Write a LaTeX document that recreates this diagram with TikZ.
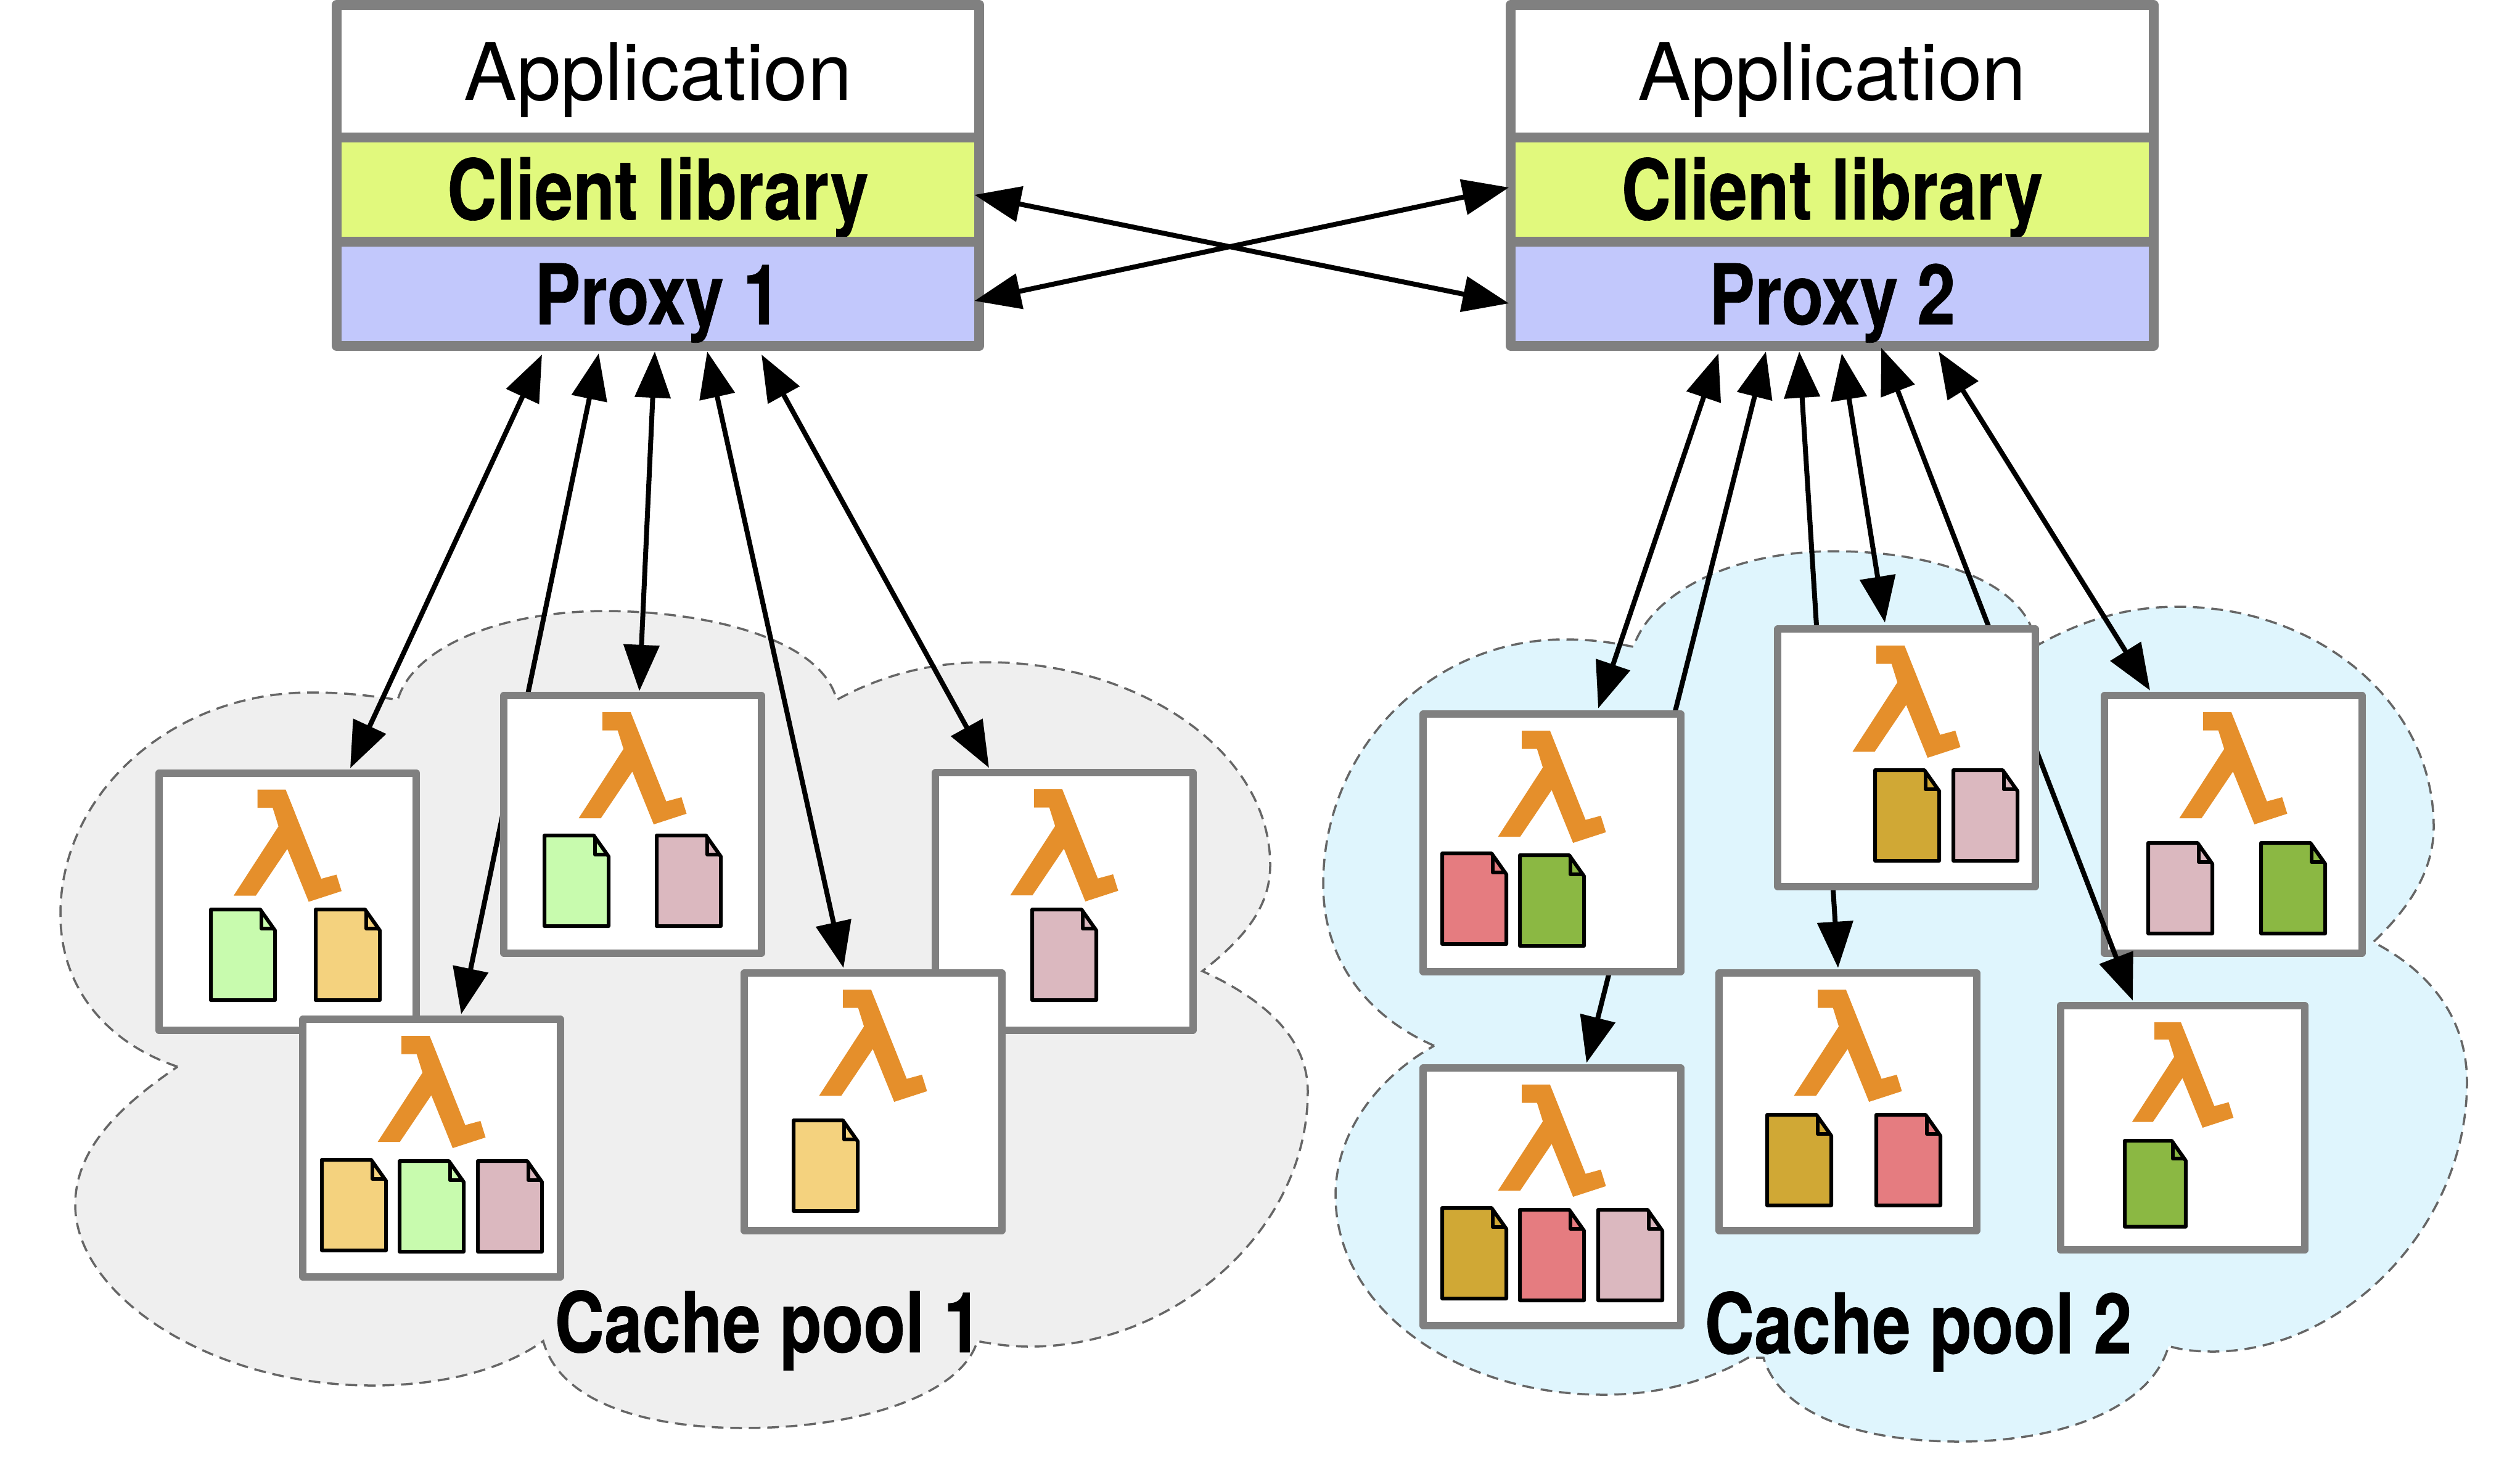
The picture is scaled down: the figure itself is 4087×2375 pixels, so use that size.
\documentclass[tikz,border=0pt]{standalone}
\usepackage{fontspec}
\usetikzlibrary{arrows.meta}
\setmainfont{TeX Gyre Heros}
\newfontfamily\condf[FakeStretch=0.82,BoldFeatures={FakeBold=0.5}]{TeX Gyre Heros}
\definecolor{boxgray}{HTML}{808080}
\definecolor{cliCol}{HTML}{E1F97D}
\definecolor{proCol}{HTML}{C2C8FC}
\definecolor{cloudA}{HTML}{EFEFEF}
\definecolor{cloudB}{HTML}{DFF5FD}
\definecolor{cloudLine}{HTML}{666666}
\definecolor{lamCol}{HTML}{E58F2B}
\definecolor{dLime}{HTML}{C8FBAE}
\definecolor{dSand}{HTML}{F4D27E}
\definecolor{dPink}{HTML}{DBB8BF}
\definecolor{dGold}{HTML}{D0A835}
\definecolor{dRed}{HTML}{E57C80}
\definecolor{dLeaf}{HTML}{8BB843}
\pgfdeclarelayer{cloudlayer}
\pgfdeclarelayer{lowerlayer}
\pgfdeclarelayer{arrowlayer}
\pgfsetlayers{cloudlayer,lowerlayer,arrowlayer,main}
\newcommand\lamicon[3]{%
  \fill[lamCol,shift={(#1,#2)},scale=#3]
    (-48.8,-182) -- (-3.2,-182) -- (54.5,-37.3) -- (79.2,-44) -- (87.5,-17.3) -- (34.2,0)
    -- (-0.5,-85.7) -- (-51.5,-10) -- (-87.5,-10) -- (-14.8,-122.3) -- (-24.2,-152.3) -- (-48.8,-152.3) -- cycle;}
\newcommand\docicon[4][1]{%
  \begin{scope}[shift={(#2,#3)},scale=#1]
    \draw[docline,fill=#4] (0,0) -- (80,0) -- (104,34) -- (104,147) -- (0,147) -- cycle;
    \draw[docline] (82,3) -- (82,31) -- (102,31);
  \end{scope}}
\tikzset{
  x=0.01cm,y=-0.01cm,
  stack/.style={draw=boxgray,line width=0.16cm,line join=round,inner sep=0pt,outer sep=0pt,
    minimum width=10.42cm,align=center},
  worker/.style={draw=boxgray,fill=white,line width=0.12cm,line join=round,inner sep=0pt,outer sep=0pt,
    minimum width=4.17cm,minimum height=4.17cm},
  smallworker/.style={worker,minimum width=3.96cm,minimum height=3.96cm},
  docline/.style={draw=black,line width=0.06cm,line join=round},
  conn/.style={line width=0.08cm,
    {Triangle[length=0.75cm,width=0.57cm]}-{Triangle[length=0.75cm,width=0.57cm]}},
  cloudshape/.style={draw=cloudLine,line width=0.035cm,dash pattern=on 0.19cm off 0.11cm},
  plainlabel/.style={font=\fontsize{36.6}{40}\selectfont},
  boldlabel/.style={font=\condf\bfseries\fontsize{38.6}{42}\selectfont},
}
\begin{document}
\begin{tikzpicture}
\useasboundingbox (0,0) rectangle (4087,2375);

\begin{pgfonlayer}{cloudlayer}
\fill[white] (0,0) rectangle (4087,2375);
\draw[cloudshape,fill=cloudA]
  (288,1730) .. controls (170,1690) and (98,1600) .. (98,1483)
  .. controls (98,1284) and (281,1123) .. (505,1123)
  .. controls (555,1123) and (600,1128) .. (645,1135)
  .. controls (670,1050) and (810,991) .. (982,991)
  .. controls (1130,991) and (1330,1030) .. (1357,1135)
  .. controls (1430,1095) and (1510,1074) .. (1600,1074)
  .. controls (1850,1074) and (2060,1220) .. (2060,1403)
  .. controls (2060,1470) and (2020,1520) .. (1950,1575)
  .. controls (2060,1625) and (2121,1690) .. (2121,1770)
  .. controls (2121,2000) and (1900,2184) .. (1670,2184)
  .. controls (1640,2184) and (1610,2180) .. (1585,2175)
  .. controls (1560,2260) and (1400,2316) .. (1207,2316)
  .. controls (1060,2316) and (910,2280) .. (881,2175)
  .. controls (810,2225) and (710,2247) .. (603,2247)
  .. controls (340,2247) and (122,2100) .. (122,1954)
  .. controls (122,1860) and (200,1790) .. (288,1730) -- cycle;
\draw[cloudshape,fill=cloudB]
  (2326,1696) .. controls (2220,1650) and (2146,1560) .. (2146,1434)
  .. controls (2146,1215) and (2320,1037) .. (2537,1037)
  .. controls (2580,1037) and (2615,1042) .. (2649,1049)
  .. controls (2680,960) and (2810,894) .. (2975,894)
  .. controls (3110,894) and (3250,930) .. (3291,1010)
  -- (3307,1045)
  .. controls (3380,1005) and (3450,984) .. (3532,984)
  .. controls (3760,984) and (3947,1140) .. (3947,1341)
  .. controls (3947,1410) and (3910,1470) .. (3849,1528)
  .. controls (3950,1580) and (4001,1660) .. (4001,1755)
  .. controls (4001,1990) and (3800,2192) .. (3589,2192)
  .. controls (3565,2192) and (3540,2190) .. (3517,2183)
  .. controls (3490,2280) and (3350,2338) .. (3177,2338)
  .. controls (3030,2338) and (2890,2300) .. (2860,2202)
  -- (2835,2202)
  .. controls (2770,2240) and (2690,2262) .. (2601,2262)
  .. controls (2360,2262) and (2166,2120) .. (2166,1939)
  .. controls (2166,1840) and (2230,1750) .. (2326,1696) -- cycle;
\end{pgfonlayer}

% top stacks and the boxes that sit under connectors
\begin{pgfonlayer}{lowerlayer}
\node[stack,plainlabel,fill=white,minimum height=2.15cm,text height=0.93cm,text depth=0pt] (appA) at (1067,115.5) {Application};
\node[stack,boldlabel,fill=cliCol,minimum height=1.69cm,text height=0.97cm,text depth=0pt] (cliA) at (1067,307.5) {Client library};
\node[stack,boldlabel,fill=proCol,minimum height=1.69cm,text height=0.99cm,text depth=0pt] (proA) at (1067,476.5) {Proxy 1};
\node[stack,plainlabel,fill=white,minimum height=2.15cm,text height=0.93cm,text depth=0pt] (appB) at (2971.5,115.5) {Application};
\node[stack,boldlabel,fill=cliCol,minimum height=1.69cm,text height=0.97cm,text depth=0pt] (cliB) at (2971.5,307.5) {Client library};
\node[stack,boldlabel,fill=proCol,minimum height=1.69cm,text height=0.99cm,text depth=0pt] (proB) at (2971.5,476.5) {Proxy 2};
\node[worker] (vthree) at (3622,1337) {};
\lamicon{3622}{1337}{1}
\docicon{3484}{1367}{dPink}
\docicon{3667}{1367}{dLeaf}
\node[smallworker] (vsix) at (3540,1829) {};
\lamicon{3540}{1829}{0.94}
\docicon[0.95]{3446}{1850}{dLeaf}
\end{pgfonlayer}

% pool 1 boxes
\node[worker] (wone) at (466.5,1462.5) {};
\lamicon{466.5}{1462.5}{1}
\docicon{342}{1475}{dLime}
\docicon{512}{1475}{dSand}
\node[worker] (wtwo) at (1026,1337) {};
\lamicon{1026}{1337}{1}
\docicon{883}{1355}{dLime}
\docicon{1065}{1355}{dPink}
\node[worker] (wthree) at (700,1862) {};
\lamicon{700}{1862}{1}
\docicon{522}{1881}{dSand}
\docicon{648}{1883}{dLime}
\docicon{775}{1883}{dPink}
\node[worker] (wfour) at (1726,1462) {};
\lamicon{1726}{1462}{1}
\docicon{1674}{1475}{dPink}
\node[worker] (wfive) at (1416,1787) {};
\lamicon{1416}{1787}{1}
\docicon{1287}{1817}{dSand}

% pool 2 boxes
\node[worker] (vone) at (2517,1367) {};
\lamicon{2517}{1367}{1}
\docicon{2339}{1384}{dRed}
\docicon{2465}{1387}{dLeaf}
\node[worker] (vtwo) at (3092,1229) {};
\lamicon{3092}{1229}{1}
\docicon{3041}{1249}{dGold}
\docicon{3168}{1249}{dPink}
\node[worker] (vfour) at (2517,1941) {};
\lamicon{2517}{1941}{1}
\docicon{2339}{1959}{dGold}
\docicon{2465}{1962}{dRed}
\docicon{2592}{1962}{dPink}
\node[worker] (vfive) at (2997,1787) {};
\lamicon{2997}{1787}{1}
\docicon{2866}{1808}{dGold}
\docicon{3043}{1808}{dRed}

\node[boldlabel,anchor=base] (poolA) at (1246,2193) {Cache pool 1};
\node[boldlabel,anchor=base] (poolB) at (3111,2195) {Cache pool 2};

\begin{pgfonlayer}{arrowlayer}
% between the stacks
\draw[conn] ([shift={(-8,8.5)}]cliA.east) -- ([shift={(-3,15.5)}]proB.west);
\draw[conn] ([shift={(-8,11.5)}]proA.east) -- ([shift={(-3,-3.5)}]cliB.west);
% pool 1
\draw[conn] ([shift={(-188,14)}]proA.south) -- ([shift={(101.5,-8)}]wone.north);
\draw[conn] ([shift={(-96,12)}]proA.south) -- ([shift={(48,-8.5)}]wthree.north);
\draw[conn] ([shift={(-5,9)}]proA.south) -- ([shift={(11,-7.5)}]wtwo.north);
\draw[conn] ([shift={(80,9)}]proA.south) -- ([shift={(-48,-8.5)}]wfive.north);
\draw[conn] ([shift={(168,14)}]proA.south) -- ([shift={(-122,-8)}]wfour.north);
% pool 2
\draw[conn] ([shift={(-184.5,12)}]proB.south) -- ([shift={(75,-9.5)}]vone.north);
\draw[conn] ([shift={(-107.5,9)}]proB.south) -- ([shift={(56,-8.5)}]vfour.north);
\draw[conn] ([shift={(-53.5,9)}]proB.south) -- ([shift={(-16,-8.5)}]vfive.north);
\draw[conn] ([shift={(15.5,12)}]proB.south) -- ([shift={(-35,-10.5)}]vtwo.north);
\draw[conn] ([shift={(79.5,3)}]proB.south) -- ([shift={(-81,-8)}]vsix.north);
\draw[conn] ([shift={(172.5,9)}]proB.south) -- ([shift={(-135,-8.5)}]vthree.north);
\end{pgfonlayer}
\end{tikzpicture}
\end{document}
